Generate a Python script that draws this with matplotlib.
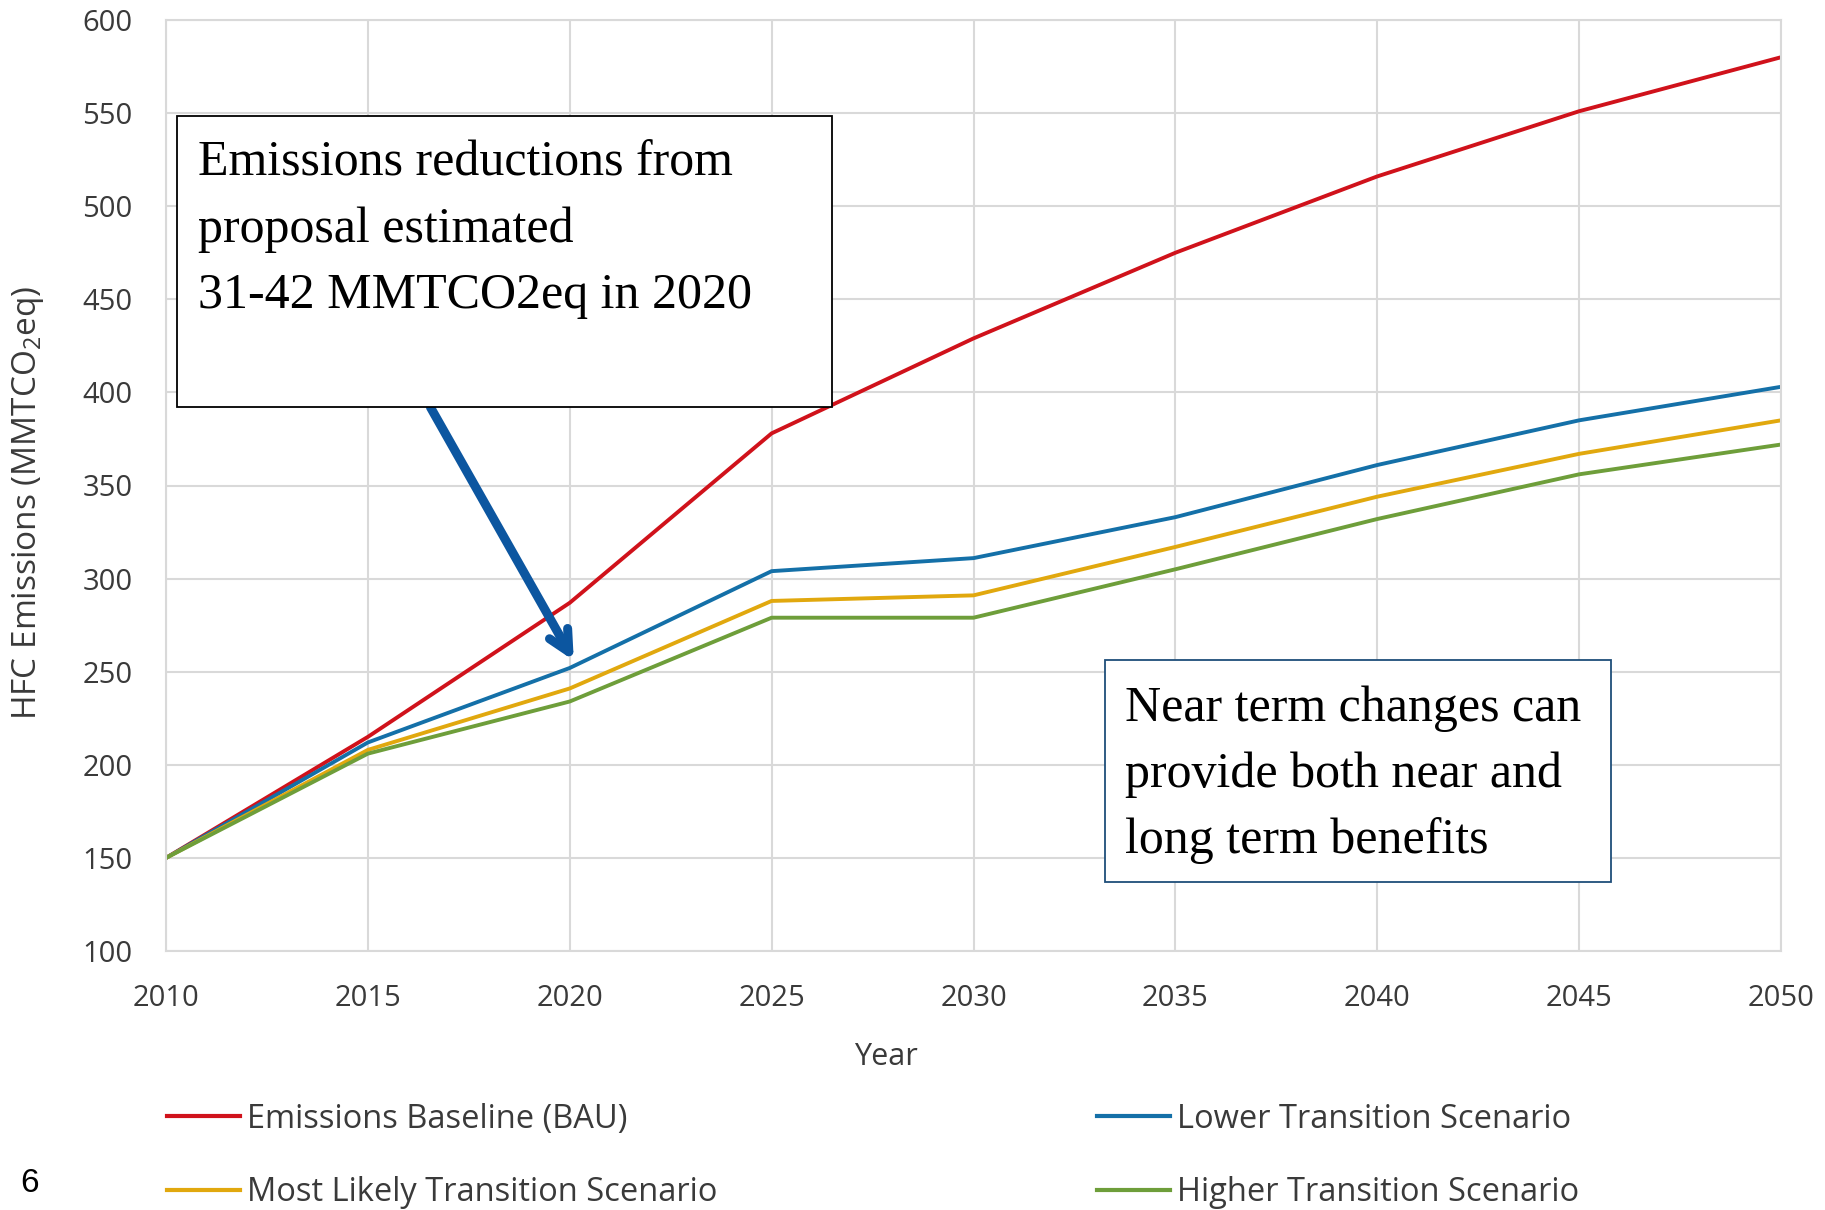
import numpy as np
import matplotlib as mpl
import matplotlib.pyplot as plt
from matplotlib.lines import Line2D
from matplotlib.patches import Rectangle

#--------------------------------
#Datos
years = [2010, 2015, 2020, 2025, 2030, 2035, 2040, 2045, 2050]
bau = [150, 215, 287, 378, 429, 475, 516, 551, 580]
lower = [150, 212, 252, 304, 311, 333, 361, 385, 403]
likely = [150, 208, 241, 288, 291, 317, 344, 367, 385]
higher = [150, 206, 234, 279, 279, 305, 332, 356, 372]

nombres = ['Emissions Baseline (BAU)', 'Lower Transition Scenario',
           'Most Likely Transition Scenario', 'Higher Transition Scenario']
colores = ['#D0121B', '#1470A8', '#E1A80E', '#6E9E3A']

yticks = [100, 150, 200, 250, 300, 350, 400, 450, 500, 550, 600]
xticks = years

texto1 = 'Emissions reductions from\nproposal estimated\n31-42 MMTCO2eq in 2020'
texto2 = 'Near term changes can\nprovide both near and\nlong term benefits'

#--------------------------------
#Diseño
mpl.rcParams['font.family'] = ['Open Sans', 'DejaVu Sans']
mpl.rcParams['mathtext.default'] = 'regular'
gris = '#3A3A3A'
W, H = 1825, 1210
fig = plt.figure(figsize=(W/100, H/100), dpi=100)
ax = fig.add_axes([166/W, 1-951/H, (1781-166)/W, (951-20)/H])

series = [bau, lower, likely, higher]
for s, c, n in zip(series, colores, nombres):
    ax.plot(years, s, color=c, lw=2.8, label=n)

ax.set_xlim(2010, 2050)
ax.set_ylim(100, 600)
ax.set_xticks(xticks)
ax.set_yticks(yticks)
ax.grid(True, color='#D9D9D9', lw=1.5)
ax.set_axisbelow(True)
for sp in ax.spines.values():
    sp.set_color('#D9D9D9')
    sp.set_linewidth(1.5)
ax.tick_params(length=0, labelsize=21, colors=gris, pad=24)
ax.set_xlabel('Year', fontsize=22, color=gris)
ax.xaxis.set_label_coords((886-166)/(1781-166), -(1042-951)/(951-20))
ax.set_ylabel('HFC Emissions (MMTCO$_2$eq)', fontsize=24, color=gris)
ax.yaxis.set_label_coords(-(166-46)/(1781-166), (951-503)/(951-20))

#Flecha
ax.annotate('', xy=(2020.1, 256), xytext=(2016.55, 392),
            arrowprops=dict(arrowstyle='->,head_length=1.5,head_width=0.75',
                            color='#0C56A0', lw=6.5, shrinkA=0, shrinkB=0))

#Cajas de texto
fig.patches.append(Rectangle((177/W, 1-407/H), (832-177)/W, (407-116)/H,
                             transform=fig.transFigure, fill=True,
                             facecolor='white', edgecolor='black', lw=1.3, zorder=5))
fig.text(198/W, 1-140/H, texto1, family=['Liberation Serif'], fontsize=36,
         va='top', ha='left', linespacing=1.55, zorder=6)

fig.patches.append(Rectangle((1105/W, 1-882/H), (1611-1105)/W, (882-660)/H,
                             transform=fig.transFigure, fill=True,
                             facecolor='white', edgecolor='#1F4E79', lw=1.3, zorder=5))
fig.text(1125/W, 1-685/H, texto2, family=['Liberation Serif'], fontsize=36,
         va='top', ha='left', linespacing=1.55, zorder=6)

#Leyenda
h = [Line2D([], [], color=c, lw=3) for c in colores]
ley = dict(frameon=False, fontsize=23.5, loc='center left', handlelength=2.25,
           handletextpad=0.2, labelspacing=1.25, borderpad=0, borderaxespad=0,
           labelcolor=gris)
fig.legend([h[0], h[2]], [nombres[0], nombres[2]],
           bbox_to_anchor=(167/W, 1-1156/H), **ley)
fig.legend([h[1], h[3]], [nombres[1], nombres[3]],
           bbox_to_anchor=(1097/W, 1-1156/H), **ley)

fig.text(30/W, 1-1184/H, '6', family=['Liberation Sans'], fontsize=24,
         ha='center', va='center')

fig.savefig('out.png', dpi=100)
